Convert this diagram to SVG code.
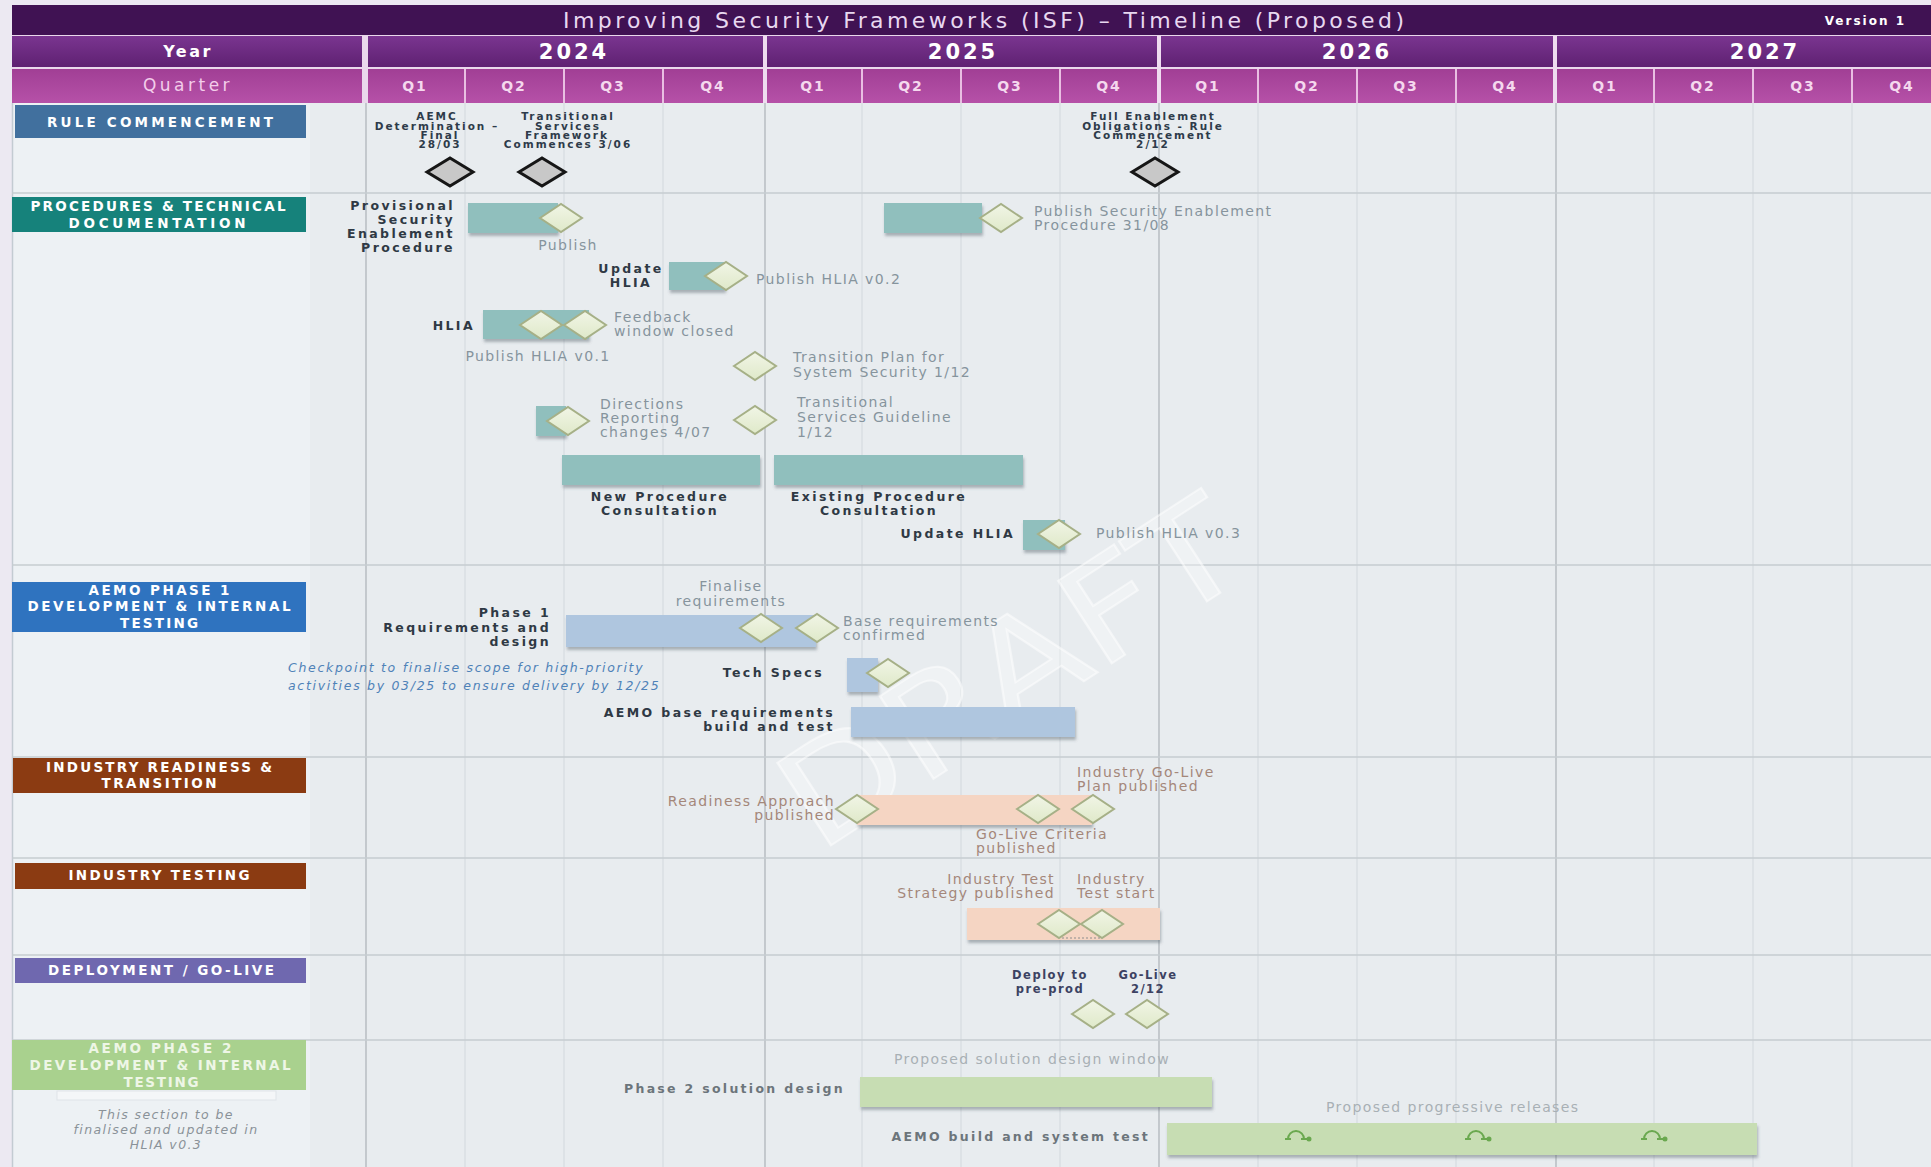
<svg xmlns="http://www.w3.org/2000/svg" width="1931" height="1167" viewBox="0 0 1931 1167">
<defs>
<style>
.ttl{font-family:"DejaVu Sans",sans-serif;font-size:22px;fill:#e8d8f0}
.ver{font-family:"DejaVu Sans",sans-serif;font-weight:bold;font-size:12px;fill:#ffffff;letter-spacing:2px;text-anchor:end}
.yr{font-family:"DejaVu Sans",sans-serif;font-weight:bold;font-size:21px;fill:#ffffff;letter-spacing:3px;text-anchor:middle}
.yrl{font-family:"DejaVu Sans",sans-serif;font-weight:bold;font-size:16px;fill:#ffffff;letter-spacing:2.5px;text-anchor:middle}
.qtl{font-family:"DejaVu Sans",sans-serif;font-size:17px;fill:#f3cdea;letter-spacing:3.5px;text-anchor:middle}
.q{font-family:"DejaVu Sans",sans-serif;font-weight:bold;font-size:14px;fill:#f5d8ee;letter-spacing:2px;text-anchor:middle}
.sec{font-family:"DejaVu Sans",sans-serif;font-weight:bold;font-size:13.5px;fill:#ffffff;text-anchor:middle}
.sec2{font-family:"DejaVu Sans",sans-serif;font-weight:bold;font-size:13.5px;fill:#eef6e6;text-anchor:middle}
.lbl{font-family:"DejaVu Sans",sans-serif;font-weight:bold;font-size:12.5px;fill:#2f3944;letter-spacing:2.4px}
.tiny{font-family:"DejaVu Sans",sans-serif;font-weight:bold;font-size:10.5px;fill:#2e3b4a;letter-spacing:2px;text-anchor:middle}
.gry{font-family:"DejaVu Sans",sans-serif;font-size:14px;fill:#86949d;letter-spacing:1.4px}
.brn{font-family:"DejaVu Sans",sans-serif;font-size:14px;fill:#a4877a;letter-spacing:1.4px}
.lgt{font-family:"DejaVu Sans",sans-serif;font-size:14px;fill:#a8b0b5;letter-spacing:1.4px}
.dep{font-family:"DejaVu Sans",sans-serif;font-weight:bold;font-size:11.5px;fill:#3c4262;letter-spacing:1.5px;text-anchor:middle}
.p2{font-family:"DejaVu Sans",sans-serif;font-weight:bold;font-size:12.5px;fill:#6c757b;letter-spacing:2.3px;text-anchor:end}
.chk{font-family:"DejaVu Sans",sans-serif;font-style:italic;font-size:12.5px;fill:#4f82b8;letter-spacing:1.7px}
.note{font-family:"DejaVu Sans",sans-serif;font-style:italic;font-size:12.5px;fill:#8a9298;letter-spacing:1.4px;text-anchor:middle}
.end{text-anchor:end}
.mid{text-anchor:middle}
.teal{fill:#90bfbd}
.blue{fill:#afc6df}
.peach{fill:#f5d5c3}
.green{fill:#c7ddb3}
.gq{stroke:#d6dce0;stroke-width:1.2}
.gy{stroke:#b0b6bb;stroke-width:1.3}
.rowsep{stroke:#c6ccd1;stroke-width:1.5}
</style>
<linearGradient id="gYear" x1="0" y1="0" x2="0" y2="1"><stop offset="0" stop-color="#7a3590"/><stop offset="1" stop-color="#5f2172"/></linearGradient>
<linearGradient id="gQ" x1="0" y1="0" x2="0" y2="1"><stop offset="0" stop-color="#a13f95"/><stop offset="1" stop-color="#b651a8"/></linearGradient>
<linearGradient id="gMs" x1="0" y1="0" x2="0" y2="1"><stop offset="0" stop-color="#f1f5e6"/><stop offset="1" stop-color="#dfe9c9"/></linearGradient>
<filter id="sh" x="-10%" y="-30%" width="120%" height="180%"><feDropShadow dx="1" dy="3" stdDeviation="1.4" flood-color="#56666d" flood-opacity="0.45"/></filter>
<path id="ms" d="M-21,0 L0,-14 L21,0 L0,14 Z" fill="url(#gMs)" stroke="#a6b087" stroke-width="2"/>
<path id="rc" d="M-23,0 L0,-14 L23,0 L0,14 Z" fill="#c8c8c8" stroke="#161616" stroke-width="3"/>
<g id="rel" fill="none" stroke="#6aa84f" stroke-width="2"><path d="M-8,5 A8,8 0 1 1 8,5"/><path d="M-11,5 L-5,5"/><path d="M5,5 L11,5"/><circle cx="13" cy="5" r="1.5" fill="#6aa84f"/></g>
</defs>

<!-- background -->
<rect x="0" y="0" width="1931" height="1167" fill="#e8ecef"/>
<rect x="0" y="0" width="1931" height="5" fill="#ece8f2"/>
<rect x="0" y="0" width="12" height="1167" fill="#ece9f2"/>
<rect x="12" y="103" width="298" height="1064" fill="#edf1f4"/>
<line x1="12.5" y1="103" x2="12.5" y2="1167" stroke="#c3cbd2" stroke-width="1.5"/>

<!-- header -->
<g id="header">
<rect x="12" y="5" width="1919" height="98" fill="#ead8ec"/>
<rect x="12" y="5" width="1919" height="30" fill="#401253"/>
<text class="ttl" x="563" y="28" textLength="841" lengthAdjust="spacing">Improving Security Frameworks (ISF) – Timeline (Proposed)</text>
<text class="ver" x="1906" y="25">Version 1</text>
<rect x="12" y="36" width="350" height="31" fill="url(#gYear)"/>
<text class="yrl" x="188" y="57">Year</text>
<rect x="368" y="36" width="395" height="31" fill="url(#gYear)"/>
<rect x="767" y="36" width="390" height="31" fill="url(#gYear)"/>
<rect x="1161" y="36" width="392" height="31" fill="url(#gYear)"/>
<rect x="1557" y="36" width="374" height="31" fill="url(#gYear)"/>
<text class="yr" x="574" y="59">2024</text>
<text class="yr" x="963" y="59">2025</text>
<text class="yr" x="1357" y="59">2026</text>
<text class="yr" x="1765" y="59">2027</text>
<rect x="12" y="69" width="350" height="34" fill="url(#gQ)"/>
<text class="qtl" x="188" y="91">Quarter</text>
<rect x="368" y="69" width="1563" height="34" fill="url(#gQ)"/>
<g stroke="#e9bfe2" stroke-width="2">
<line x1="465" y1="69" x2="465" y2="103"/><line x1="564" y1="69" x2="564" y2="103"/><line x1="663" y1="69" x2="663" y2="103"/>
<line x1="862" y1="69" x2="862" y2="103"/><line x1="961" y1="69" x2="961" y2="103"/><line x1="1060" y1="69" x2="1060" y2="103"/>
<line x1="1258" y1="69" x2="1258" y2="103"/><line x1="1357" y1="69" x2="1357" y2="103"/><line x1="1456" y1="69" x2="1456" y2="103"/>
<line x1="1654" y1="69" x2="1654" y2="103"/><line x1="1753" y1="69" x2="1753" y2="103"/><line x1="1852" y1="69" x2="1852" y2="103"/>
</g>
<g stroke="#efdcf0" stroke-width="4">
<line x1="765" y1="36" x2="765" y2="103"/><line x1="1159" y1="36" x2="1159" y2="103"/><line x1="1555" y1="36" x2="1555" y2="103"/>
</g>
<text class="q" x="415" y="91">Q1</text><text class="q" x="514" y="91">Q2</text><text class="q" x="613" y="91">Q3</text><text class="q" x="713" y="91">Q4</text>
<text class="q" x="813" y="91">Q1</text><text class="q" x="911" y="91">Q2</text><text class="q" x="1010" y="91">Q3</text><text class="q" x="1109" y="91">Q4</text>
<text class="q" x="1208" y="91">Q1</text><text class="q" x="1307" y="91">Q2</text><text class="q" x="1406" y="91">Q3</text><text class="q" x="1505" y="91">Q4</text>
<text class="q" x="1605" y="91">Q1</text><text class="q" x="1703" y="91">Q2</text><text class="q" x="1803" y="91">Q3</text><text class="q" x="1902" y="91">Q4</text>
</g>

<!-- grid -->
<g id="grid">
<line class="gq" x1="465" y1="103" x2="465" y2="1167"/><line class="gq" x1="564" y1="103" x2="564" y2="1167"/><line class="gq" x1="663" y1="103" x2="663" y2="1167"/>
<line class="gq" x1="862" y1="103" x2="862" y2="1167"/><line class="gq" x1="961" y1="103" x2="961" y2="1167"/><line class="gq" x1="1060" y1="103" x2="1060" y2="1167"/>
<line class="gq" x1="1258" y1="103" x2="1258" y2="1167"/><line class="gq" x1="1357" y1="103" x2="1357" y2="1167"/><line class="gq" x1="1456" y1="103" x2="1456" y2="1167"/>
<line class="gq" x1="1654" y1="103" x2="1654" y2="1167"/><line class="gq" x1="1753" y1="103" x2="1753" y2="1167"/><line class="gq" x1="1852" y1="103" x2="1852" y2="1167"/>
<line class="gy" x1="366" y1="103" x2="366" y2="1167"/><line class="gy" x1="765" y1="103" x2="765" y2="1167"/>
<line class="gy" x1="1159" y1="103" x2="1159" y2="1167"/><line class="gy" x1="1556" y1="103" x2="1556" y2="1167"/>
<line class="rowsep" x1="12" y1="193" x2="1931" y2="193"/>
<line class="rowsep" x1="12" y1="565" x2="1931" y2="565"/>
<line class="rowsep" x1="12" y1="757" x2="1931" y2="757"/>
<line class="rowsep" x1="12" y1="858" x2="1931" y2="858"/>
<line class="rowsep" x1="12" y1="955" x2="1931" y2="955"/>
<line class="rowsep" x1="12" y1="1040" x2="1931" y2="1040"/>
</g>

<!-- watermark -->
<text x="1010" y="720" transform="rotate(-33 1010 672)" font-family="DejaVu Sans, sans-serif" font-size="135" fill="#ffffff" fill-opacity="0.3" stroke="#ffffff" stroke-opacity="0.5" stroke-width="2" text-anchor="middle" textLength="520" lengthAdjust="spacingAndGlyphs">DRAFT</text>

<!-- section labels -->
<g id="sec-rule"><rect x="15" y="105" width="291" height="33" fill="#41709e"/><text class="sec" x="160" y="127" textLength="226" lengthAdjust="spacing">RULE COMMENCEMENT</text></g>
<g id="sec-proc"><rect x="12" y="197" width="294" height="35" fill="#16827b"/><text class="sec" x="158" y="211" textLength="255" lengthAdjust="spacing">PROCEDURES &amp; TECHNICAL</text><text class="sec" x="157" y="228" textLength="177" lengthAdjust="spacing">DOCUMENTATION</text></g>
<g id="sec-phase1"><rect x="12" y="582" width="294" height="50" fill="#2f73bf"/><text class="sec" x="159" y="595" textLength="141" lengthAdjust="spacing">AEMO PHASE 1</text><text class="sec" x="159" y="611" textLength="263" lengthAdjust="spacing">DEVELOPMENT &amp; INTERNAL</text><text class="sec" x="159" y="628" textLength="78" lengthAdjust="spacing">TESTING</text></g>
<g id="sec-readiness"><rect x="13" y="758" width="293" height="35" fill="#8b3b12"/><text class="sec" x="159" y="772" textLength="226" lengthAdjust="spacing">INDUSTRY READINESS &amp;</text><text class="sec" x="159" y="788" textLength="115" lengthAdjust="spacing">TRANSITION</text></g>
<g id="sec-testing"><rect x="15" y="863" width="291" height="26" fill="#8b3b12"/><text class="sec" x="159" y="880" textLength="181" lengthAdjust="spacing">INDUSTRY TESTING</text></g>
<g id="sec-deploy"><rect x="15" y="958" width="291" height="25" fill="#6f68af"/><text class="sec" x="161" y="975" textLength="226" lengthAdjust="spacing">DEPLOYMENT / GO-LIVE</text></g>
<g id="sec-phase2"><rect x="12" y="1040" width="294" height="50" fill="#a9d18e"/><text class="sec2" x="160" y="1053" textLength="143" lengthAdjust="spacing">AEMO PHASE 2</text><text class="sec2" x="160" y="1070" textLength="261" lengthAdjust="spacing">DEVELOPMENT &amp; INTERNAL</text><text class="sec2" x="161" y="1087" textLength="75" lengthAdjust="spacing">TESTING</text>
<rect x="57" y="1091" width="219" height="9" fill="#f4f6f8" stroke="#dfe4e8" stroke-width="1"/>
<text class="note" x="166" y="1119">This section to be</text><text class="note" x="166" y="1134">finalised and updated in</text><text class="note" x="166" y="1149">HLIA v0.3</text></g>

<!-- rule commencement milestones -->
<g id="m-aemc"><text class="tiny" x="437" y="120">AEMC</text><text class="tiny" x="437" y="130">Determination –</text><text class="tiny" x="440" y="139">Final</text><text class="tiny" x="440" y="148">28/03</text><use href="#rc" x="450" y="172"/></g>
<g id="m-tsf"><text class="tiny" x="568" y="120">Transitional</text><text class="tiny" x="568" y="130">Services</text><text class="tiny" x="567" y="139">Framework</text><text class="tiny" x="568" y="148">Commences 3/06</text><use href="#rc" x="542" y="172"/></g>
<g id="m-full"><text class="tiny" x="1153" y="120">Full Enablement</text><text class="tiny" x="1153" y="130">Obligations - Rule</text><text class="tiny" x="1153" y="139">Commencement</text><text class="tiny" x="1153" y="148">2/12</text><use href="#rc" x="1155" y="172"/></g>

<!-- procedures -->
<g id="t-prov"><text class="lbl end" x="455" y="210">Provisional</text><text class="lbl end" x="455" y="224">Security</text><text class="lbl end" x="455" y="238">Enablement</text><text class="lbl end" x="455" y="252">Procedure</text>
<rect class="teal" x="468" y="203" width="90" height="30" filter="url(#sh)"/><use href="#ms" x="561" y="218"/><text class="gry mid" x="568" y="250">Publish</text></g>
<g id="t-pse"><rect class="teal" x="884" y="203" width="98" height="30" filter="url(#sh)"/><use href="#ms" x="1001" y="218"/><text class="gry" x="1034" y="216">Publish Security Enablement</text><text class="gry" x="1034" y="230">Procedure 31/08</text></g>
<g id="t-upd"><text class="lbl mid" x="631" y="273">Update</text><text class="lbl mid" x="631" y="287">HLIA</text>
<rect class="teal" x="669" y="262" width="56" height="28" filter="url(#sh)"/><use href="#ms" x="726" y="276"/><text class="gry" x="756" y="284">Publish HLIA v0.2</text></g>
<g id="t-hlia"><text class="lbl end" x="475" y="330">HLIA</text>
<rect class="teal" x="483" y="310" width="106" height="29" filter="url(#sh)"/><use href="#ms" x="541" y="325"/><use href="#ms" x="585" y="325"/>
<text class="gry" x="614" y="322">Feedback</text><text class="gry" x="614" y="336">window closed</text><text class="gry mid" x="538" y="361">Publish HLIA v0.1</text></g>
<g id="t-tplan"><use href="#ms" x="755" y="366"/><text class="gry" x="793" y="362">Transition Plan for</text><text class="gry" x="793" y="377">System Security 1/12</text></g>
<g id="t-dir"><rect class="teal" x="536" y="406" width="30" height="30" filter="url(#sh)"/><use href="#ms" x="568" y="421"/><text class="gry" x="600" y="409">Directions</text><text class="gry" x="600" y="423">Reporting</text><text class="gry" x="600" y="437">changes 4/07</text></g>
<g id="t-tsg"><use href="#ms" x="755" y="420"/><text class="gry" x="797" y="407">Transitional</text><text class="gry" x="797" y="422">Services Guideline</text><text class="gry" x="797" y="437">1/12</text></g>
<g id="t-newp"><rect class="teal" x="562" y="455" width="198" height="30" filter="url(#sh)"/><text class="lbl mid" x="660" y="501">New Procedure</text><text class="lbl mid" x="660" y="515">Consultation</text></g>
<g id="t-exp"><rect class="teal" x="774" y="455" width="249" height="30" filter="url(#sh)"/><text class="lbl mid" x="879" y="501">Existing Procedure</text><text class="lbl mid" x="879" y="515">Consultation</text></g>
<g id="t-upd3"><text class="lbl end" x="1015" y="538">Update HLIA</text><rect class="teal" x="1023" y="520" width="42" height="30" filter="url(#sh)"/><use href="#ms" x="1059" y="534"/><text class="gry" x="1096" y="538">Publish HLIA v0.3</text></g>

<!-- AEMO phase 1 -->
<g id="p1-req"><text class="gry mid" x="731" y="591">Finalise</text><text class="gry mid" x="731" y="606">requirements</text>
<text class="lbl end" x="551" y="617">Phase 1</text><text class="lbl end" x="551" y="632">Requirements and</text><text class="lbl end" x="551" y="646">design</text>
<rect class="blue" x="566" y="615" width="250" height="32" filter="url(#sh)"/><use href="#ms" x="761" y="628"/><use href="#ms" x="817" y="628"/>
<text class="gry" x="843" y="626">Base requirements</text><text class="gry" x="843" y="640">confirmed</text></g>
<g id="p1-chk"><text class="chk" x="288" y="672">Checkpoint to finalise scope for high-priority</text><text class="chk" x="288" y="690">activities by 03/25 to ensure delivery by 12/25</text></g>
<g id="p1-tech"><text class="lbl end" x="824" y="677">Tech Specs</text><rect class="blue" x="847" y="658" width="31" height="34" filter="url(#sh)"/><use href="#ms" x="888" y="673"/></g>
<g id="p1-build"><text class="lbl end" x="835" y="717">AEMO base requirements</text><text class="lbl end" x="835" y="731">build and test</text><rect class="blue" x="851" y="707" width="224" height="30" filter="url(#sh)"/></g>

<!-- industry readiness -->
<g id="ir"><text class="brn" x="1077" y="777">Industry Go-Live</text><text class="brn" x="1077" y="791">Plan published</text>
<text class="brn end" x="835" y="806">Readiness Approach</text><text class="brn end" x="835" y="820">published</text>
<rect class="peach" x="857" y="795" width="235" height="30" filter="url(#sh)"/>
<use href="#ms" x="857" y="809"/><use href="#ms" x="1038" y="809"/><use href="#ms" x="1093" y="809"/>
<text class="brn" x="976" y="839">Go-Live Criteria</text><text class="brn" x="976" y="853">published</text></g>

<!-- industry testing -->
<g id="it"><text class="brn end" x="1055" y="884">Industry Test</text><text class="brn end" x="1055" y="898">Strategy published</text>
<text class="brn" x="1077" y="884">Industry</text><text class="brn" x="1077" y="898">Test start</text>
<rect class="peach" x="967" y="908" width="193" height="32" filter="url(#sh)"/>
<use href="#ms" x="1059" y="924"/><use href="#ms" x="1102" y="924"/></g>

<!-- deployment -->
<g id="dep"><text class="dep" x="1050" y="979">Deploy to</text><text class="dep" x="1050" y="993">pre-prod</text>
<text class="dep" x="1148" y="979">Go-Live</text><text class="dep" x="1148" y="993">2/12</text>
<use href="#ms" x="1093" y="1014"/><use href="#ms" x="1147" y="1014"/></g>

<!-- phase 2 -->
<g id="p2"><text class="lgt mid" x="1032" y="1064">Proposed solution design window</text>
<text class="p2" x="845" y="1093">Phase 2 solution design</text>
<rect class="green" x="860" y="1077" width="352" height="30" filter="url(#sh)"/>
<text class="p2" x="1150" y="1141">AEMO build and system test</text>
<text class="lgt" x="1326" y="1112">Proposed progressive releases</text>
<rect class="green" x="1167" y="1123" width="590" height="32" filter="url(#sh)"/>
<use href="#rel" x="1296" y="1134"/><use href="#rel" x="1476" y="1134"/><use href="#rel" x="1652" y="1134"/></g>

<!-- connectors -->
<g id="connectors"><line x1="1062" y1="938" x2="1100" y2="938" stroke="#8e8e8e" stroke-width="1.2" stroke-dasharray="2 2"/></g>
</svg>
